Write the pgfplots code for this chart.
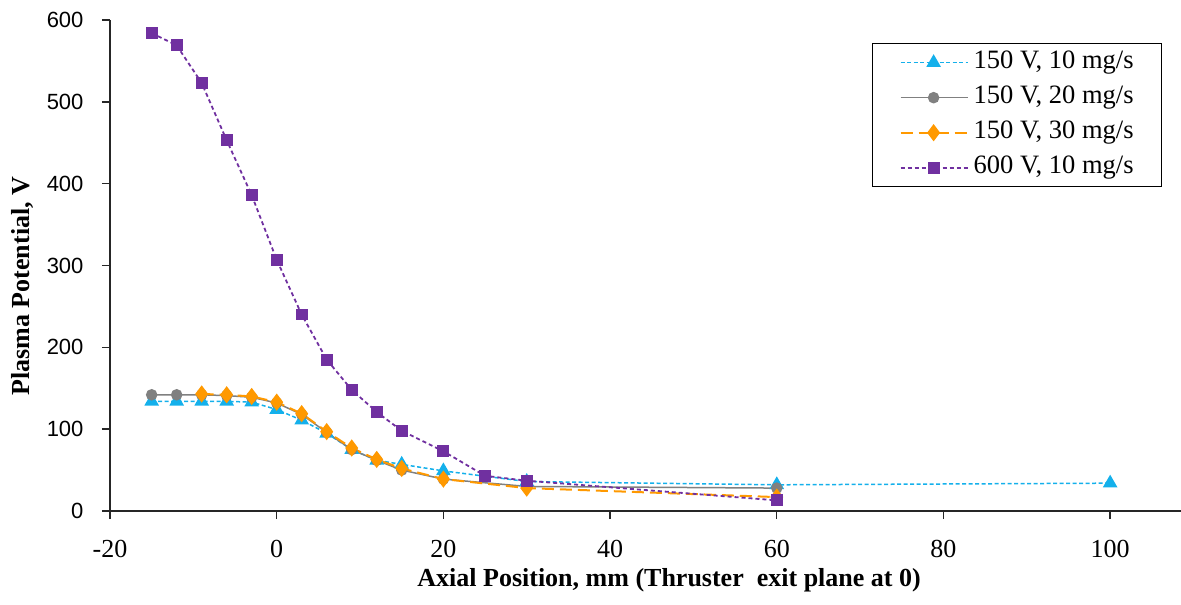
\documentclass[border=0pt]{standalone}
\usepackage{fontspec}
\setmainfont{Liberation Serif}
\newfontfamily\ticksans{Liberation Sans}
\usepackage{pgfplots}
\pgfplotsset{compat=1.18}

\definecolor{cblue}{RGB}{20,176,235}
\definecolor{cgray}{RGB}{128,128,128}
\definecolor{corange}{RGB}{255,153,0}
\definecolor{cpurple}{RGB}{112,48,160}

\begin{document}
\begin{tikzpicture}
\begin{axis}[
  scale only axis, width=1071pt, height=491pt,
  xmin=-20, xmax=108.5, ymin=0, ymax=600,
  axis x line*=bottom, axis y line*=left,
  axis line style={-, line width=1.4pt, black!85},
  xtick={-20,0,...,100}, ytick={0,100,...,600},
  tick align=outside, major tick length=8pt,
  tick style={line width=1.4pt, black!85},
  /pgf/number format/assume math mode=true,
  x tick label style={font=\fontsize{26}{26}\selectfont, yshift=-18pt},
  y tick label style={font=\ticksans\fontsize{22}{22}\selectfont, xshift=-15pt},
  xlabel={Axial Position, mm (Thruster\ \ exit plane at 0)},
  ylabel={Plasma Potential, V},
  every axis x label/.style={at={(axis description cs:0.522,-0.1405)}, anchor=center,
    font=\bfseries\fontsize{26}{26}\selectfont},
  every axis y label/.style={at={(axis description cs:-0.082,0.458)}, anchor=center, rotate=90,
    font=\bfseries\fontsize{26}{26}\selectfont},
  legend cell align=left,
  legend style={at={(axis description cs:0.7115,0.953)}, anchor=north west,
    draw=black, line width=1.2pt, font=\fontsize{26.5}{26.5}\selectfont,
    nodes={inner sep=1pt, text height=18pt, text depth=6pt},
    inner xsep=27pt, inner ysep=6pt, row sep=9pt, column sep=4pt},
  legend image code/.code={
    \draw[mark repeat=2, mark phase=2, #1] plot coordinates {(0pt,0pt) (33pt,0pt) (67pt,0pt)};
  },
]
% 150 V, 10 mg/s
\addplot[color=cblue, line width=1.5pt, dash pattern=on 4pt off 2.5pt,
  mark=triangle*, mark size=7pt, mark options={solid, fill=cblue}]
  coordinates {(-15,134) (-12,134) (-9,134) (-6,134) (-3,133) (0,124) (3,111) (6,95)
    (9,75) (12,62) (15,57) (20,49) (30,36) (60,32) (100,34)};
\addlegendentry{150 V, 10 mg/s}
% 150 V, 20 mg/s
\addplot[color=cgray, line width=1.5pt,
  mark=*, mark size=5pt, mark options={solid, fill=cgray}]
  coordinates {(-15,142) (-12,142) (-9,142) (-6,141) (-3,139) (0,132) (3,118) (6,96)
    (9,75) (12,62) (15,50) (20,39) (30,30) (60,28)};
\addlegendentry{150 V, 20 mg/s}
% 150 V, 30 mg/s
\addplot[color=corange, line width=2pt, dash pattern=on 12pt off 6pt,
  mark=diamond*, mark size=7pt, mark options={solid, fill=corange}]
  coordinates {(-9,143) (-6,142) (-3,140) (0,133) (3,119) (6,97) (9,77) (12,63)
    (15,52) (20,39) (30,28) (60,17)};
\addlegendentry{150 V, 30 mg/s}
% 600 V, 10 mg/s
\addplot[color=cpurple, line width=1.8pt, dash pattern=on 4pt off 3pt,
  mark=square*, mark size=5pt, mark options={solid, fill=cpurple}]
  coordinates {(-15,584) (-12,569) (-9,523) (-6,453) (-3,386) (0,307) (3,240) (6,185)
    (9,148) (12,121) (15,98) (20,73) (25,43) (30,37) (60,13)};
\addlegendentry{600 V, 10 mg/s}
\end{axis}
\pgfresetboundingbox
\path[use as bounding box] (-110pt,-94pt) rectangle (1071pt,511pt);
\end{tikzpicture}
\end{document}
